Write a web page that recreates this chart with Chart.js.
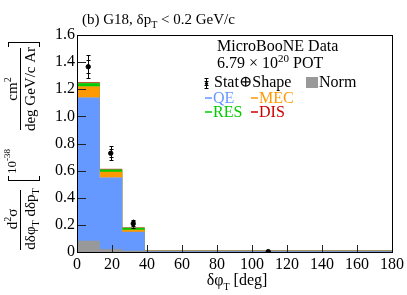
<!DOCTYPE html>
<html>
<head>
<meta charset="utf-8">
<script src="https://cdn.jsdelivr.net/npm/chart.js@4/dist/chart.umd.min.js"></script>
<style>
  html, body { margin: 0; padding: 0; background: #fff; }
  #c { display: block; }
</style>
</head>
<body>
<canvas id="c" width="407" height="295"></canvas>
<script>
// bin edges in deg (last bin is wide)
const binEdges = [0, 12.857, 25.714, 38.571, 180];
// stacked MC contributions per bin
const qe = [1.138, 0.548, 0.147, 0.008];
const mec = [0.081, 0.042, 0.015, 0.001];
const res = [0.026, 0.017, 0.015, 0.001];
const dis = [0.005, 0.004, 0.002, 0.0005];
// normalisation uncertainty band
const norm = [0.081, 0.02, 0.008, 0.001];
// data points
const dataX = [6.43, 19.29, 32.14, 109.29];
const dataY = [1.366, 0.728, 0.209, 0.003];
const errTotal = [0.083, 0.053, 0.03, 0.002];
const errStat = [0.048, 0.03, 0.018, 0.001];
const xTicks = [0, 20, 40, 60, 80, 100, 120, 140, 160, 180];
const yTicks = [0, 0.2, 0.4, 0.6, 0.8, 1, 1.2, 1.4, 1.6];

const SERIF = "'Liberation Serif', 'DejaVu Serif', serif";

function histo(vals) {
  const pts = vals.map((v, i) => ({ x: binEdges[i], y: v }));
  pts.push({ x: binEdges[binEdges.length - 1], y: vals[vals.length - 1] });
  return pts;
}

function histSet(label, vals, color, stack, fill) {
  return {
    label,
    data: histo(vals),
    stepped: "before",
    stack,
    fill,
    backgroundColor: color,
    borderColor: color,
    borderWidth: 0.5,
    pointRadius: 0,
  };
}

// texto con sub/superíndices
function richText(ctx, x, y, parts, align) {
  let w = 0;
  parts.forEach((p) => {
    ctx.font = `${p.size}px ${SERIF}`;
    p.w = ctx.measureText(p.t).width;
    w += p.w;
  });
  let cx = align === "center" ? x - w / 2 : x;
  parts.forEach((p) => {
    ctx.font = `${p.size}px ${SERIF}`;
    ctx.fillStyle = p.color || "#000";
    ctx.fillText(p.t, cx, y + (p.dy || 0));
    cx += p.w;
  });
  return w;
}

const errorBars = {
  id: "errorBars",
  afterDatasetsDraw(chart) {
    const ctx = chart.ctx;
    const xs = chart.scales.x;
    const ys = chart.scales.y;
    ctx.save();
    ctx.strokeStyle = "#000";
    ctx.lineWidth = 1;
    dataX.forEach((xv, i) => {
      const px = Math.round(xs.getPixelForValue(xv)) + 0.5;
      const t = ys.getPixelForValue(dataY[i] + errTotal[i]);
      const b = ys.getPixelForValue(dataY[i] - errTotal[i]);
      ctx.beginPath();
      ctx.moveTo(px, t);
      ctx.lineTo(px, b);
      [errTotal[i], -errTotal[i], errStat[i], -errStat[i]].forEach((e) => {
        const py = Math.round(ys.getPixelForValue(dataY[i] + e)) + 0.5;
        ctx.moveTo(px - 2, py);
        ctx.lineTo(px + 2, py);
      });
      ctx.stroke();
    });
    ctx.restore();
  },
};

const frameAndText = {
  id: "frameAndText",
  afterDraw(chart) {
    const ctx = chart.ctx;
    const { left, right, top, bottom } = chart.chartArea;
    const xs = chart.scales.x;
    const ys = chart.scales.y;
    ctx.save();
    ctx.strokeStyle = "#222";
    ctx.lineWidth = 1;
    ctx.beginPath();
    xTicks.forEach((v) => {
      const px = Math.round(xs.getPixelForValue(v)) + 0.5;
      ctx.moveTo(px, bottom);
      ctx.lineTo(px, bottom - 7);
    });
    yTicks.forEach((v) => {
      const py = Math.round(ys.getPixelForValue(v)) + 0.5;
      ctx.moveTo(left, py);
      ctx.lineTo(left + 9, py);
    });
    ctx.stroke();
    ctx.strokeStyle = "#000";
    ctx.strokeRect(Math.round(left) + 0.5, Math.round(top) + 0.5, Math.round(right - left), Math.round(bottom - top));

    // título
    ctx.textBaseline = "alphabetic";
    richText(ctx, 82, 24, [
      { t: "(b) G18, δp", size: 15 },
      { t: "T", size: 10, dy: 4 },
      { t: " < 0.2 GeV/c", size: 15 },
    ]);

    // leyenda
    richText(ctx, 217, 51, [{ t: "MicroBooNE Data", size: 16 }]);
    richText(ctx, 217, 68, [
      { t: "6.79 × 10", size: 16 },
      { t: "20", size: 11, dy: -6 },
      { t: " POT", size: 16 },
    ]);
    ctx.beginPath();
    ctx.moveTo(206.5, 78); ctx.lineTo(206.5, 89);
    ctx.moveTo(204.5, 78.5); ctx.lineTo(208.5, 78.5);
    ctx.moveTo(204.5, 88.5); ctx.lineTo(208.5, 88.5);
    ctx.moveTo(204.5, 81.5); ctx.lineTo(208.5, 81.5);
    ctx.moveTo(204.5, 85.5); ctx.lineTo(208.5, 85.5);
    ctx.stroke();
    ctx.fillStyle = "#000";
    ctx.beginPath(); ctx.arc(206.5, 83.5, 1.6, 0, Math.PI * 2); ctx.fill();
    richText(ctx, 214, 87, [{ t: "Stat⊕Shape", size: 16 }]);
    ctx.fillStyle = "#999";
    ctx.fillRect(306, 77, 12, 11);
    richText(ctx, 319, 87, [{ t: "Norm", size: 16 }]);

    const legendItems = [
      { t: "QE", c: "#6699ff", x: 205, y: 103 },
      { t: "MEC", c: "#ff9900", x: 251, y: 103 },
      { t: "RES", c: "#00cc00", x: 205, y: 117 },
      { t: "DIS", c: "#cc0000", x: 251, y: 117 },
    ];
    legendItems.forEach((it) => {
      ctx.strokeStyle = it.c;
      ctx.lineWidth = 1.5;
      ctx.beginPath();
      ctx.moveTo(it.x, it.y - 5);
      ctx.lineTo(it.x + 7, it.y - 5);
      ctx.stroke();
      richText(ctx, it.x + 8, it.y, [{ t: it.t, size: 16, color: it.c }]);
    });

    // título eje x
    richText(ctx, 237, 285, [
      { t: "δφ", size: 16 },
      { t: "T", size: 10, dy: 5 },
      { t: " [deg]", size: 16 },
    ], "center");

    // título eje y (rotado)
    ctx.translate(0, 295);
    ctx.rotate(-Math.PI / 2);
    ctx.strokeStyle = "#000";
    ctx.lineWidth = 1;
    // fracción inferior
    richText(ctx, 76, 17, [
      { t: "d", size: 15 },
      { t: "2", size: 10, dy: -6 },
      { t: "σ", size: 15 },
    ], "center");
    richText(ctx, 76, 35, [
      { t: "dδφ", size: 15 },
      { t: "T", size: 10, dy: 4 },
      { t: " dδp", size: 15 },
      { t: "T", size: 10, dy: 4 },
    ], "center");
    ctx.beginPath();
    ctx.moveTo(45, 20.5); ctx.lineTo(105, 20.5);
    // corchete [
    ctx.moveTo(114.5, 8); ctx.lineTo(114.5, 40);
    ctx.moveTo(114.5, 8.5); ctx.lineTo(119, 8.5);
    ctx.moveTo(114.5, 39.5); ctx.lineTo(119, 39.5);
    // fracción superior
    ctx.moveTo(165, 20.5); ctx.lineTo(247, 20.5);
    // corchete ]
    ctx.moveTo(252.5, 8); ctx.lineTo(252.5, 40);
    ctx.moveTo(252.5, 8.5); ctx.lineTo(248, 8.5);
    ctx.moveTo(252.5, 39.5); ctx.lineTo(248, 39.5);
    ctx.stroke();
    richText(ctx, 121, 16, [
      { t: "10", size: 13 },
      { t: "-38", size: 9, dy: -6 },
    ]);
    richText(ctx, 206, 17, [
      { t: "cm", size: 15 },
      { t: "2", size: 10, dy: -6 },
    ], "center");
    richText(ctx, 206, 35, [{ t: "deg GeV/c Ar", size: 15 }], "center");
    ctx.restore();
  },
};

new Chart(document.getElementById("c").getContext("2d"), {
  type: "line",
  data: {
    datasets: [
      {
        label: "Data",
        data: dataX.map((x, i) => ({ x, y: dataY[i] })),
        showLine: false,
        stack: "data",
        pointRadius: 2.2,
        pointBackgroundColor: "#000",
        pointBorderColor: "#000",
        fill: false,
      },
      histSet("Norm", norm, "#999999", "norm", "origin"),
      histSet("QE", qe, "#6699ff", "mc", "origin"),
      histSet("MEC", mec, "#ff9900", "mc", "-1"),
      histSet("RES", res, "#00cc00", "mc", "-1"),
      histSet("DIS", dis, "#cc0000", "mc", "-1"),
    ],
  },
  options: {
    responsive: false,
    animation: false,
    devicePixelRatio: 1,
    layout: { padding: { top: 35, right: 12, left: 0, bottom: 0 } },
    plugins: {
      legend: { display: false },
      tooltip: { enabled: false },
    },
    scales: {
      x: {
        type: "linear",
        min: 0,
        max: 180,
        grid: { display: false, drawTicks: false, tickLength: 0 },
        border: { display: false },
        ticks: {
          stepSize: 20,
          autoSkip: false,
          maxRotation: 0,
          padding: 3,
          color: "#000",
          font: { family: SERIF, size: 16 },
        },
        afterFit: (scale) => { scale.height = 43; },
      },
      y: {
        stacked: true,
        min: 0,
        max: 1.6,
        grid: { display: false, drawTicks: false, tickLength: 0 },
        border: { display: false },
        ticks: {
          stepSize: 0.2,
          autoSkip: false,
          padding: 2,
          color: "#000",
          font: { family: SERIF, size: 16 },
        },
        afterFit: (scale) => { scale.width = 77; },
      },
    },
  },
  plugins: [errorBars, frameAndText],
});
</script>
</body>
</html>
